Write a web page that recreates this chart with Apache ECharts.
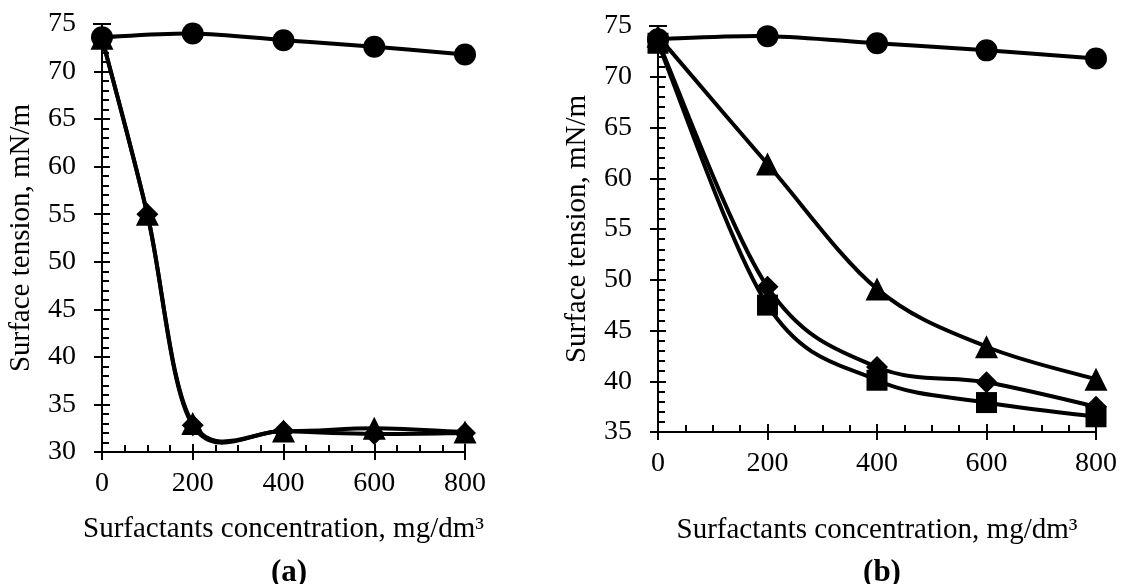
<!DOCTYPE html>
<html><head><meta charset="utf-8">
<script src="https://cdn.jsdelivr.net/npm/echarts@6/dist/echarts.min.js"></script>
<style>html,body{margin:0;padding:0;background:#fff}#c{width:1123px;height:584px}</style>
</head><body><div id="c"></div>
<script>
// ---- data ----
const xTicks = [0, 200, 400, 600, 800];

// panel (a)
const circleA_x = [0, 200, 400, 600, 800];
const circleA_y = [73.6, 74.0, 73.3, 72.6, 71.8];
const lowA_x = [0, 100, 200, 400, 600, 800];
const triangleA_y = [73.5, 55.0, 33.0, 32.2, 32.5, 32.1];
const diamondA_y = [73.5, 55.0, 32.8, 32.2, 31.9, 32.0];
const errA = [0, 73.5, 75.0]; // x, low, high

// panel (b)
const xB = [0, 200, 400, 600, 800];
const circleB_y = [73.7, 74.0, 73.3, 72.6, 71.8];
const triangleB_y = [74.0, 61.4, 49.1, 43.4, 40.2];
const diamondB_y = [73.5, 49.3, 41.4, 39.9, 37.5];
const squareB_y = [73.3, 47.5, 40.1, 37.9, 36.5];
const errB = [0, 73.5, 75.0];

const xName = 'Surfactants concentration, mg/dm\u00B3';
const yName = 'Surface tension, mN/m';
const captions = ['(a)', '(b)'];

// ---- helpers ----
const FONT = 'Liberation Serif';
const FS = 28;
const FN = 29;
const zip = (xs, ys) => xs.map((x, i) => [x, ys[i]]);

function xAxes(grid, gap) {
  return [{
    type: 'value', gridIndex: grid, min: xTicks[0], max: xTicks[xTicks.length - 1], interval: 200,
    position: 'bottom',
    axisLine: { show: true, onZero: false, lineStyle: { color: '#000', width: 2 } },
    axisTick: { show: true, inside: true, length: 8, lineStyle: { color: '#000', width: 2 } },
    minorTick: { show: true, splitNumber: 4, length: 7, lineStyle: { color: '#000', width: 2 } },
    axisLabel: { color: '#000', fontFamily: FONT, fontSize: FS, margin: 18 },
    splitLine: { show: false },
    name: xName, nameLocation: 'middle', nameGap: gap,
    nameTextStyle: { color: '#000', fontFamily: FONT, fontSize: FN }
  }, {
    type: 'value', gridIndex: grid, min: xTicks[0], max: xTicks[xTicks.length - 1], interval: 200,
    position: 'bottom',
    axisLine: { show: false, onZero: false },
    axisTick: { show: true, inside: false, length: 8, lineStyle: { color: '#000', width: 2 } },
    axisLabel: { show: false }, splitLine: { show: false }
  }];
}
function yAxes(grid, min, gap) {
  return [{
    type: 'value', gridIndex: grid, min: min, max: 75, interval: 5, position: 'left',
    axisLine: { show: true, onZero: false, lineStyle: { color: '#000', width: 2 } },
    axisTick: { show: true, inside: true, length: 8, lineStyle: { color: '#000', width: 2 } },
    minorTick: { show: true, splitNumber: 5, length: 7, lineStyle: { color: '#000', width: 2 } },
    axisLabel: { color: '#000', fontFamily: FONT, fontSize: FS, margin: 26 },
    splitLine: { show: false },
    name: yName, nameLocation: 'middle', nameGap: gap, nameRotate: 90,
    nameTextStyle: { color: '#000', fontFamily: FONT, fontSize: FN }
  }, {
    type: 'value', gridIndex: grid, min: min, max: 75, interval: 5, position: 'left',
    axisLine: { show: false, onZero: false },
    axisTick: { show: true, inside: false, length: 8, lineStyle: { color: '#000', width: 2 } },
    axisLabel: { show: false }, splitLine: { show: false }
  }];
}

// smooth curve (Catmull-Rom / spreadsheet-style smoothing) through the data, via axis coords
function curve(xi, yi, pts) {
  return {
    type: 'custom', xAxisIndex: xi, yAxisIndex: yi, data: pts, z: 3, clip: false, animation: false,
    renderItem: function (params, api) {
      const i = params.dataIndex, n = pts.length;
      if (i >= n - 1) return null;
      const p0 = api.coord(pts[Math.max(i - 1, 0)]);
      const p1 = api.coord(pts[i]);
      const p2 = api.coord(pts[i + 1]);
      const p3 = api.coord(pts[Math.min(i + 2, n - 1)]);
      return {
        type: 'bezierCurve',
        shape: {
          x1: p1[0], y1: p1[1], x2: p2[0], y2: p2[1],
          cpx1: p1[0] + (p2[0] - p0[0]) / 6, cpy1: p1[1] + (p2[1] - p0[1]) / 6,
          cpx2: p2[0] - (p3[0] - p1[0]) / 6, cpy2: p2[1] - (p3[1] - p1[1]) / 6
        },
        style: { stroke: '#000', lineWidth: 4, fill: 'none', lineCap: 'round' }
      };
    }
  };
}
function marks(xi, yi, pts, symbol, size) {
  return {
    type: 'scatter', xAxisIndex: xi, yAxisIndex: yi, data: pts, symbol: symbol, symbolSize: size,
    itemStyle: { color: '#000', opacity: 1 }, z: 4, animation: false
  };
}
function errBar(xi, yi, e) {
  return {
    type: 'custom', xAxisIndex: xi, yAxisIndex: yi, data: [e], z: 2, clip: false, animation: false,
    renderItem: function (params, api) {
      const top = api.coord([api.value(0), api.value(2)]);
      const bot = api.coord([api.value(0), api.value(1)]);
      return { type: 'group', children: [
        { type: 'line', shape: { x1: top[0], y1: top[1], x2: bot[0], y2: bot[1] }, style: { stroke: '#000', lineWidth: 2 } },
        { type: 'line', shape: { x1: top[0] - 9, y1: top[1], x2: top[0] + 9, y2: top[1] }, style: { stroke: '#000', lineWidth: 2 } }
      ] };
    }
  };
}

const A_circle = zip(circleA_x, circleA_y);
const A_tri = zip(lowA_x, triangleA_y);
const A_dia = zip(lowA_x, diamondA_y);
const B_circle = zip(xB, circleB_y);
const B_tri = zip(xB, triangleB_y);
const B_dia = zip(xB, diamondB_y);
const B_sq = zip(xB, squareB_y);

const option = {
  backgroundColor: '#fff',
  animation: false,
  title: [
    { text: captions[0], left: 284, top: 552, textAlign: 'center', textStyle: { fontFamily: FONT, fontSize: 31, fontWeight: 'bold', color: '#000' } },
    { text: captions[1], left: 877, top: 552, textAlign: 'center', textStyle: { fontFamily: FONT, fontSize: 31, fontWeight: 'bold', color: '#000' } }
  ],
  grid: [
    { left: 102, top: 24, width: 363, height: 428 },
    { left: 658, top: 26, width: 438, height: 406 }
  ],
  xAxis: [...xAxes(0, 63), ...xAxes(1, 84)],
  yAxis: [...yAxes(0, 30, 66), ...yAxes(1, 35, 66)],
  series: [
    errBar(0, 0, errA),
    curve(0, 0, A_circle), curve(0, 0, A_dia), curve(0, 0, A_tri),
    marks(0, 0, A_circle, 'circle', 22),
    marks(0, 0, A_dia, 'diamond', 22),
    marks(0, 0, A_tri, 'triangle', 23),
    errBar(2, 2, errB),
    curve(2, 2, B_circle), curve(2, 2, B_tri), curve(2, 2, B_dia), curve(2, 2, B_sq),
    marks(2, 2, B_circle, 'circle', 22),
    marks(2, 2, B_tri, 'triangle', 23),
    marks(2, 2, B_dia, 'diamond', 22),
    marks(2, 2, B_sq, 'rect', 21)
  ]
};
const chart = echarts.init(document.getElementById('c'), null, { renderer: 'canvas' });
chart.setOption(option);
</script>
</body></html>
